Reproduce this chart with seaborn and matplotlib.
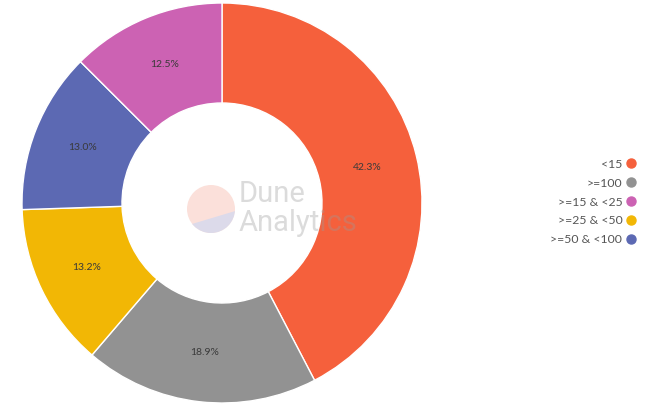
import matplotlib.pyplot as plt
import seaborn as sns
from matplotlib.lines import Line2D
from matplotlib.patches import Circle, Polygon

# data (legend order)
categories = ["<15", ">=100", ">=15 & <25", ">=25 & <50", ">=50 & <100"]
shares = [42.3, 18.9, 12.5, 13.2, 13.0]
colors = ["#f5603c", "#929292", "#cc62b3", "#f2b705", "#5c69b3"]

sns.set_theme(style="white")
plt.rcParams['font.family'] = ['Lato', 'DejaVu Sans']

# slices are drawn largest first, clockwise from the top
order = sorted(range(len(shares)), key=lambda i: -shares[i])
pie_vals = [shares[i] for i in order]
pie_cols = [colors[i] for i in order]

fig = plt.figure(figsize=(6.56, 4.11), dpi=100)
ax = fig.add_axes([22 / 656, 8 / 411, 400 / 656, 400 / 411])
wedges, texts, autotexts = ax.pie(
    pie_vals, colors=pie_cols, startangle=90, counterclock=False,
    autopct="%.1f%%", pctdistance=0.75, radius=1,
    wedgeprops=dict(width=0.5, edgecolor="white", linewidth=1),
    textprops=dict(fontsize=7.5, color="#3a3a3a"))
ax.set_xlim(-1.0, 1.0)
ax.set_ylim(-1.0, 1.0)
ax.set_aspect("equal")

# watermark
logo = Circle((-0.055, -0.03), 0.12, facecolor="#fbe0da", edgecolor="none", zorder=5)
ax.add_patch(logo)
low = Polygon([(-0.3, -0.15), (0.2, 0.0), (0.2, -0.3), (-0.3, -0.3)],
              facecolor="#dcdaea", edgecolor="none", zorder=6)
low.set_clip_path(logo)
ax.add_patch(low)
ax.text(0.085, 0.045, "Dune", fontsize=21, color="#9a9a9a", alpha=0.35,
        family=["Roboto", "DejaVu Sans"], va="center", ha="left", zorder=7)
ax.text(0.085, -0.1, "Analytics", fontsize=21, color="#9a9a9a", alpha=0.35,
        family=["Roboto", "DejaVu Sans"], va="center", ha="left", zorder=7)

handles = [Line2D([], [], marker="o", linestyle="none", markersize=6.5,
                  markerfacecolor=c, markeredgecolor=c) for c in colors]
fig.legend(handles, categories, loc="center right",
           bbox_to_anchor=(648 / 656, 1 - 202 / 411), frameon=False,
           markerfirst=False, fontsize=8.8, labelcolor="#555555",
           labelspacing=0.65, handletextpad=0.2, handlelength=1.0)

fig.savefig("out.png", dpi=100)
